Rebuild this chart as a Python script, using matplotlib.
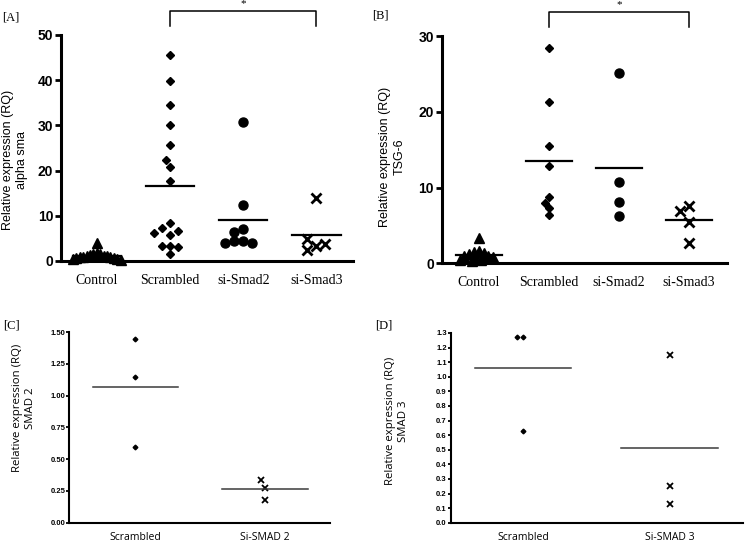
import numpy as np
import matplotlib
matplotlib.use("Agg")
import matplotlib.pyplot as plt

W, H = 745, 544

# categories
groups_ab = ["Control", "Scrambled", "si-Smad2", "si-Smad3"]
groups_c = ["Scrambled", "Si-SMAD 2"]
groups_d = ["Scrambled", "Si-SMAD 3"]

# [A] alpha sma
a_control = [3.9, 1.8, 1.6, 1.5, 1.4, 1.2, 1.1, 1.0, 0.9, 0.8, 0.8, 0.7, 0.6, 0.5, 0.4, 0.3]
a_scrambled = [45.6, 39.8, 34.5, 30.0, 25.6, 20.9, 22.3, 17.7,
               5.8, 8.3, 7.4, 6.6, 6.1, 1.5, 3.4, 3.4, 3.0]
a_smad2 = [30.7, 12.4, 7.1, 6.5, 4.4, 4.4, 3.9, 3.9]
a_smad3 = [13.9, 3.4, 4.8, 3.8, 2.4]
a_ticks = [0, 10, 20, 30, 40, 50]

# [B] TSG-6
b_control = [3.4, 1.6, 1.5, 1.4, 1.2, 1.0, 0.9, 0.8, 0.6, 0.5, 0.4, 0.3]
b_scrambled = [28.4, 21.3, 15.5, 12.9, 8.7, 6.4, 8.0, 7.3]
b_smad2 = [25.1, 10.7, 8.1, 6.2]
b_smad3 = [7.6, 5.5, 2.7, 6.9]
b_ticks = [0, 10, 20, 30]

# [C] SMAD 2
c_scrambled = [1.45, 1.15, 0.60]
c_si = [0.276, 0.18, 0.336]
c_ticks = [0.0, 0.25, 0.5, 0.75, 1.0, 1.25, 1.5]

# [D] SMAD 3
d_scrambled = [1.27, 1.27, 0.63]
d_si = [1.15, 0.25, 0.13]
d_ticks = [round(0.1 * i, 1) for i in range(14)]

BOLDNUM = ["Liberation Sans Narrow", "Liberation Sans"]
SERIF = ["Liberation Serif"]
SANS = ["Open Sans", "DejaVu Sans"]


def px_rect(l, t, r, b):
    return [l / W, 1 - b / H, (r - l) / W, (b - t) / H]


def swarm_offsets(vals, y_scale, x_scale, dx, dy):
    # spread points sideways (in list order) so markers at similar heights do not overlap
    vals = np.asarray(vals, float)
    offs = np.zeros(len(vals))
    placed = []
    cands = [0.0]
    for j in range(1, 40):
        cands += [-j * dx / 2, j * dx / 2]
    for i in range(len(vals)):
        y = vals[i] * y_scale
        for c in cands:
            if all(((c - px) / dx) ** 2 + ((y - py) / dy) ** 2 >= 0.8 for px, py in placed):
                break
        placed.append((c, y))
        offs[i] = c / x_scale
    return offs


def dot_panel(ax, rect, xlim, ylim, series, styles, spacing, line_lw, line_color):
    ax.set_xlim(*xlim)
    ax.set_ylim(*ylim)
    x_scale = (rect[2] - rect[0]) / (xlim[1] - xlim[0])
    y_scale = (rect[3] - rect[1]) / (ylim[1] - ylim[0])
    for i, (vals, st, (dx, dy)) in enumerate(zip(series, styles, spacing)):
        offs = swarm_offsets(vals, y_scale, x_scale, dx, dy)
        ax.plot(i + offs, vals, linestyle="none", color="black", clip_on=False, **st)
        m = np.mean(vals)
        ax.plot([i - 0.33, i + 0.33], [m, m], color=line_color, lw=line_lw, zorder=3)
    for s in ["top", "right"]:
        ax.spines[s].set_visible(False)


fig = plt.figure(figsize=(W / 100, H / 100), dpi=100)

# ---------- [A] ----------
ra = (61, 35, 353, 261)
axA = fig.add_axes(px_rect(*ra))
sty_a = [dict(marker="^", ms=6.5), dict(marker="D", ms=4.3),
         dict(marker="o", ms=6.5), dict(marker="x", ms=6.5, mew=2)]
dot_panel(axA, ra, (-0.49, 3.5), (0, 50), [a_control, a_scrambled, a_smad2, a_smad3],
          sty_a, [(3.4, 9), (8, 8), (9, 9), (9, 9)], 1.6, "black")

# ---------- [B] ----------
rb = (441.7, 36, 726.7, 263.3)
axB = fig.add_axes(px_rect(*rb))
sty_b = [dict(marker="^", ms=6.5), dict(marker="D", ms=3.8),
         dict(marker="o", ms=6.5), dict(marker="x", ms=6.5, mew=2)]
dot_panel(axB, rb, (-0.53, 3.54), (0, 30), [b_control, b_scrambled, b_smad2, b_smad3],
          sty_b, [(4.8, 9), (7, 7), (9, 9), (9, 9)], 1.6, "black")

for ax, ticks, ymax in [(axA, a_ticks, 50), (axB, b_ticks, 30)]:
    for s in ["left", "bottom"]:
        ax.spines[s].set_linewidth(2.2)
    ax.set_yticks(ticks)
    ax.set_yticklabels([str(t) for t in ticks], family=BOLDNUM, fontweight="bold", fontsize=10)
    ax.tick_params(axis="y", length=4.5, width=2, pad=1)
    ax.set_xticks(range(len(groups_ab)))
    ax.set_xticklabels(groups_ab, family=SERIF, fontsize=10)
    ax.tick_params(axis="x", length=0, pad=9)
    # significance bracket Scrambled vs si-Smad3
    yb = ymax * 1.105
    ax.plot([1, 1, 3, 3], [ymax * 1.04, yb, yb, ymax * 1.04], color="black", lw=1.1, clip_on=False)
    ax.text(2, yb * 1.012, "*", ha="center", va="bottom", fontsize=8, family=SERIF)

# ---------- [C] ----------
rc = (69.3, 332.2, 330, 522.7)
axC = fig.add_axes(px_rect(*rc))
sty_c = [dict(marker="D", ms=2.4), dict(marker="x", ms=4, mew=1.3)]
dot_panel(axC, rc, (-0.51, 1.5), (0, 1.5), [c_scrambled, c_si], sty_c,
          [(5, 5), (9, 9)], 1.1, "#3a3a3a")
axC.set_yticks(c_ticks)
axC.set_yticklabels(["%.2f" % t for t in c_ticks], family=BOLDNUM, fontweight="bold", fontsize=5.5)

# ---------- [D] ----------
rd = (451, 332.9, 743.3, 522.7)
axD = fig.add_axes(px_rect(*rd))
dot_panel(axD, rd, (-0.49, 1.5), (0, 1.3), [d_scrambled, d_si], sty_c,
          [(6, 6), (7, 7)], 1.1, "#3a3a3a")
axD.set_yticks(d_ticks)
axD.set_yticklabels(["%.1f" % t for t in d_ticks], family=BOLDNUM, fontweight="bold", fontsize=5.5)

for ax, groups in [(axC, groups_c), (axD, groups_d)]:
    for s in ["left", "bottom"]:
        ax.spines[s].set_linewidth(1.5)
    ax.tick_params(axis="y", length=2.5, width=1.3, pad=0.5)
    ax.set_xticks(range(len(groups)))
    ax.set_xticklabels(groups, family=SANS, fontsize=7.5)
    ax.tick_params(axis="x", length=0, pad=7)

# panel letters
for (x, y), lab in zip([(2, 17), (372, 15), (3, 326), (375, 326)], ["[A]", "[B]", "[C]", "[D]"]):
    fig.text(x / W, 1 - y / H, lab, ha="left", va="center", family=SERIF, fontsize=9)

# y axis titles
ylabels = [((15, 160), "Relative expression (RQ)\nalpha sma", ["Liberation Sans"], 9),
           ((392, 157), "Relative expression (RQ)\nTSG-6", ["Liberation Sans"], 9),
           ((24, 408), "Relative expression (RQ)\nSMAD 2", SANS, 8.2),
           ((397, 421), "Relative expression (RQ)\nSMAD 3", SANS, 8.2)]
for (x, y), txt, fam, fs in ylabels:
    fig.text(x / W, 1 - y / H, txt, rotation=90, ha="center", va="center",
             family=fam, fontsize=fs, multialignment="center", linespacing=1.3)

fig.savefig("out.png", dpi=100)
